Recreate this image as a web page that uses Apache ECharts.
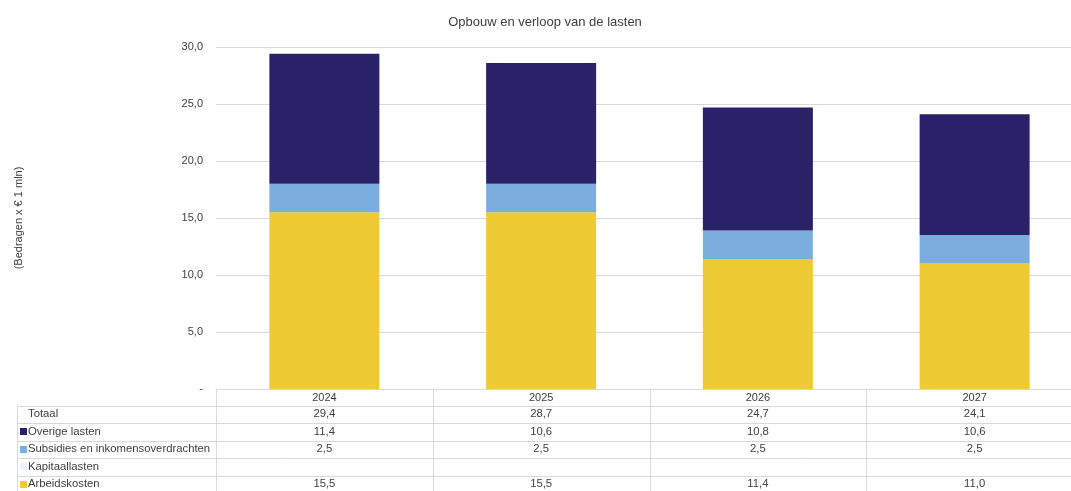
<!DOCTYPE html>
<html>
<head>
<meta charset="utf-8">
<script src="https://cdn.jsdelivr.net/npm/echarts@6/dist/echarts.min.js"></script>
<style>
html,body{margin:0;padding:0;background:#fff;}
#c{width:1071px;height:491px;}
</style>
</head>
<body>
<div id="c"></div>
<script>
const categories = ['2024', '2025', '2026', '2027'];
const arbeidskosten = [15.5, 15.5, 11.4, 11.0];
const kapitaallasten = [null, null, null, null];
const subsidies = [2.5, 2.5, 2.5, 2.5];
const overigeLasten = [11.4, 10.6, 10.8, 10.6];
const totaal = [29.4, 28.7, 24.7, 24.1];
const yTicks = { min: 0, max: 30, interval: 5 };

const FONT = '"Liberation Sans", Arial, sans-serif';
const colors = {
  overige: '#2a2268',
  subsidies: '#7badde',
  kapitaal: '#e9f1f9',
  arbeid: '#eecb34'
};
const lineColor = '#d9d9d9';

const fmt = v => (v === null || v === undefined) ? '' : v.toFixed(1).replace('.', ',');

const chart = echarts.init(document.getElementById('c'), null, { renderer: 'canvas' });

const option = {
  animation: false,
  backgroundColor: '#fff',
  title: {
    text: 'Opbouw en verloop van de lasten',
    left: 540, top: 11, textAlign: 'center',
    textStyle: { fontFamily: FONT, fontSize: 13, fontWeight: 'normal', color: '#404040' }
  },
  grid: { left: 216, top: 47, width: 867, height: 342, containLabel: false, outerBoundsMode: 'none' },
  xAxis: {
    type: 'category',
    data: categories,
    axisLine: { show: true, lineStyle: { color: lineColor, width: 1 } },
    axisTick: { show: false },
    axisLabel: { margin: 3, fontFamily: FONT, fontSize: 11, color: '#404040' }
  },
  yAxis: {
    type: 'value',
    min: yTicks.min, max: yTicks.max, interval: yTicks.interval,
    name: '(Bedragen x € 1 mln)',
    nameLocation: 'middle',
    nameGap: 192,
    nameRotate: 90,
    nameTextStyle: { fontFamily: FONT, fontSize: 11, color: '#404040' },
    axisLine: { show: false },
    axisTick: { show: false },
    splitLine: { show: true, lineStyle: { color: lineColor, width: 1 } },
    axisLabel: {
      margin: 13, fontFamily: FONT, fontSize: 11, color: '#404040',
      formatter: v => v === 0 ? '-' : fmt(v)
    }
  },
  series: [
    { name: 'Arbeidskosten', type: 'bar', stack: 't', data: arbeidskosten, barWidth: 110, itemStyle: { color: colors.arbeid } },
    { name: 'Kapitaallasten', type: 'bar', stack: 't', data: kapitaallasten, barWidth: 110, itemStyle: { color: colors.kapitaal } },
    { name: 'Subsidies en inkomensoverdrachten', type: 'bar', stack: 't', data: subsidies, barWidth: 110, itemStyle: { color: colors.subsidies } },
    { name: 'Overige lasten', type: 'bar', stack: 't', data: overigeLasten, barWidth: 110, itemStyle: { color: colors.overige } }
  ]
};
chart.setOption(option);

// Data table below the chart
const rows = [
  { name: 'Totaal', values: totaal, color: null },
  { name: 'Overige lasten', values: overigeLasten, color: colors.overige },
  { name: 'Subsidies en inkomensoverdrachten', values: subsidies, color: colors.subsidies },
  { name: 'Kapitaallasten', values: kapitaallasten, color: colors.kapitaal },
  { name: 'Arbeidskosten', values: arbeidskosten, color: colors.arbeid }
];
const tableLeft = 17;
const headerTop = 389;
const rowH = 17.5;
const firstRowTop = 405.5;
const centers = categories.map(c => chart.convertToPixel({ xAxisIndex: 0 }, c));
const bandW = centers.length > 1 ? centers[1] - centers[0] : 216;
const g = [];
for (let r = 0; r <= rows.length; r++) {
  const y = Math.round(firstRowTop + r * rowH) + 0.5;
  g.push({ type: 'line', shape: { x1: tableLeft, y1: y, x2: 1071, y2: y }, style: { stroke: lineColor, lineWidth: 1 }, silent: true });
}
g.push({ type: 'line', shape: { x1: tableLeft + 0.5, y1: firstRowTop, x2: tableLeft + 0.5, y2: 491 }, style: { stroke: lineColor, lineWidth: 1 }, silent: true });
for (let i = 0; i < centers.length; i++) {
  const x = Math.round(centers[i] - bandW / 2) + 0.5;
  g.push({ type: 'line', shape: { x1: x, y1: headerTop, x2: x, y2: 491 }, style: { stroke: lineColor, lineWidth: 1 }, silent: true });
}
rows.forEach((row, r) => {
  const cy = firstRowTop + r * rowH + rowH / 2;
  if (row.color) {
    g.push({ type: 'rect', shape: { x: 20, y: Math.round(cy - 3.5), width: 7, height: 7 }, style: { fill: row.color }, silent: true });
  }
  g.push({ type: 'text', x: 28, y: cy, style: { text: row.name, fontFamily: FONT, fontSize: 11.3, fill: '#404040', verticalAlign: 'middle' }, silent: true });
  row.values.forEach((v, i) => {
    g.push({ type: 'text', x: centers[i], y: cy, style: { text: fmt(v), fontFamily: FONT, fontSize: 11.3, fill: '#404040', align: 'center', verticalAlign: 'middle' }, silent: true });
  });
});
chart.setOption({ graphic: g });
</script>
</body>
</html>
